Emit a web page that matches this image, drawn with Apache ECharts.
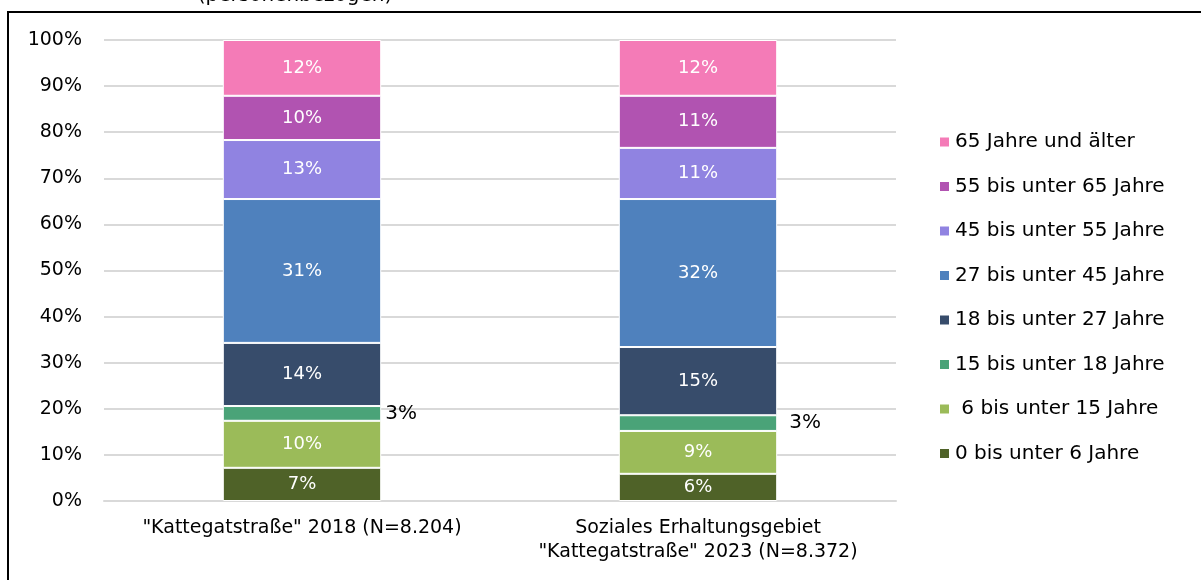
<!DOCTYPE html>
<html><head><meta charset="utf-8">
<script src="https://cdn.jsdelivr.net/npm/echarts@6/dist/echarts.min.js"></script>
<style>html,body{margin:0;padding:0;background:#fff}#c{width:1201px;height:580px}</style>
</head><body><div id="c"></div>
<script>
const categories = ['"Kattegatstraße" 2018 (N=8.204)', 'Soziales Erhaltungsgebiet\n"Kattegatstraße" 2023 (N=8.372)'];
const seriesNames = ['0 bis unter 6 Jahre', ' 6 bis unter 15 Jahre', '15 bis unter 18 Jahre', '18 bis unter 27 Jahre', '27 bis unter 45 Jahre', '45 bis unter 55 Jahre', '55 bis unter 65 Jahre', '65 Jahre und älter'];
const v0_6 = [7.2, 5.9];
const v6_15 = [10.2, 9.3];
const v15_18 = [3.2, 3.4];
const v18_27 = [13.7, 14.8];
const v27_45 = [31.2, 32.1];
const v45_55 = [12.8, 11.1];
const v55_65 = [9.6, 11.3];
const v65 = [12.1, 12.1];
const yTicks = [0, 10, 20, 30, 40, 50, 60, 70, 80, 90, 100];
const colors = ['#4F6228', '#9BBB59', '#4AA378', '#374C6B', '#4F81BD', '#9083E1', '#B153B1', '#F47BB7'];
const allValues = [v0_6, v6_15, v15_18, v18_27, v27_45, v45_55, v55_65, v65];

const FONT = 'DejaVu Sans';
const chart = echarts.init(document.getElementById('c'));
const series = allValues.map((vals, i) => {
  const outside = i === 2;
  return {
    name: seriesNames[i], type: 'bar', stack: 'a', barWidth: '40%',
    itemStyle: { color: colors[i], borderColor: '#fff', borderWidth: 1 },
    label: {
      show: true,
      position: outside ? 'right' : 'inside',
      color: outside ? '#000' : '#fff',
      fontSize: outside ? 20 : 18, fontFamily: FONT,
      formatter: p => Math.round(p.value) + '%'
    },
    data: vals.map((v, j) => outside ? { value: v, label: { distance: j === 0 ? 4 : 12 } } : v)
  };
});
chart.setOption({
  animation: false,
  textStyle: { fontFamily: FONT },
  graphic: [
    { type: 'rect', shape: { x: 8, y: 12, width: 1300, height: 700 }, style: { fill: 'none', stroke: '#000', lineWidth: 2 }, z: 100 },
    { type: 'text', x: 295, y: -14, style: { text: '(personenbezogen)', fontSize: 20, fontFamily: FONT, fill: '#000', textAlign: 'center' } }
  ],
  grid: { left: 104, right: 305, top: 40, bottom: 79 },
  legend: {
    orient: 'vertical', left: 933, top: 127,
    data: seriesNames.slice().reverse(),
    icon: 'rect', itemWidth: 11, itemHeight: 11, itemGap: 24.5, itemTextGap: 6,
    textStyle: { fontSize: 20, fontFamily: FONT, color: '#000', lineHeight: 20 }
  },
  xAxis: {
    type: 'category', data: categories,
    axisLine: { lineStyle: { color: '#D9D9D9', width: 2 } },
    axisTick: { show: false },
    axisLabel: { interval: 0, hideOverlap: false, fontSize: 19, fontFamily: FONT, color: '#000', margin: 15, lineHeight: 24 }
  },
  yAxis: {
    type: 'value', min: 0, max: 100, interval: 10,
    axisLabel: { fontSize: 19, fontFamily: FONT, color: '#000', margin: 22, formatter: v => yTicks.includes(v) ? v + '%' : '' },
    splitLine: { lineStyle: { color: '#D9D9D9', width: 2 } }
  },
  series: series
});
</script></body></html>
